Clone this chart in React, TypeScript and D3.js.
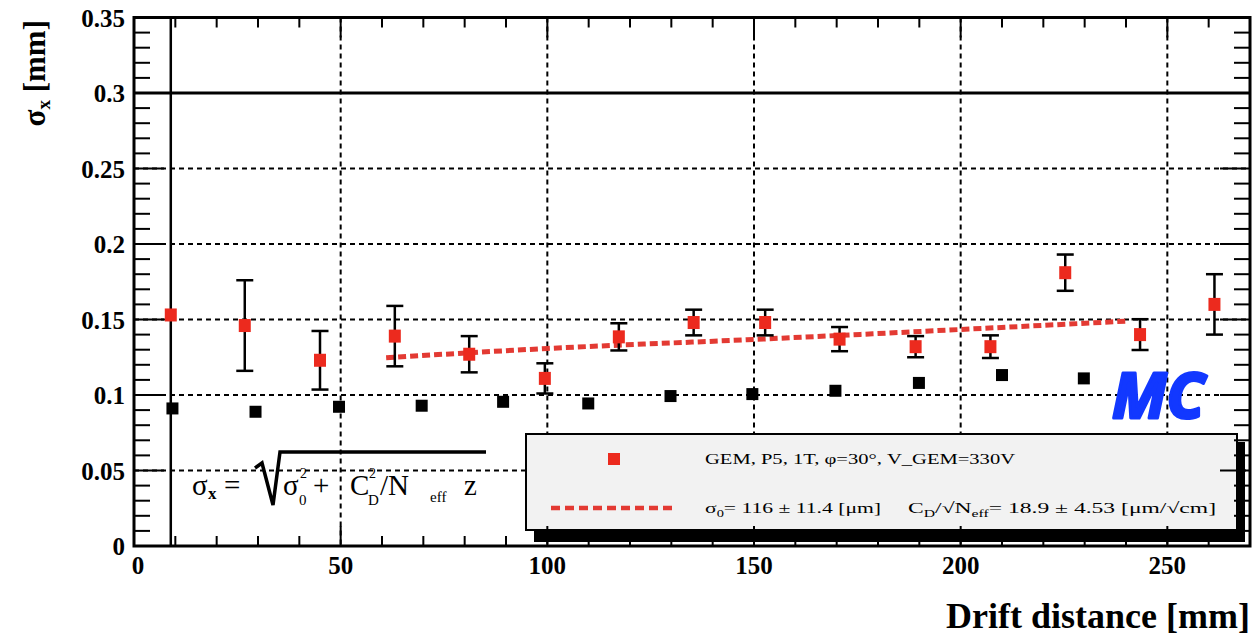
import React from 'react';
import * as d3 from 'd3';

// Red points: GEM data with error bars (x in mm, sigma in mm)
const redX = [8.9, 26.8, 45.0, 63.1, 81.1, 99.4, 117.3, 135.4, 152.7, 170.7, 189.1, 207.2, 225.3, 243.4, 261.4];
const redY = [0.153, 0.146, 0.123, 0.139, 0.127, 0.111, 0.1385, 0.148, 0.148, 0.137, 0.132, 0.132, 0.181, 0.140, 0.160];
const redErr = [0.25, 0.030, 0.0194, 0.020, 0.012, 0.010, 0.009, 0.0085, 0.0085, 0.008, 0.007, 0.0075, 0.012, 0.0102, 0.020];

// Black points (no error bars)
const blackX = [9.3, 29.4, 49.6, 69.6, 89.3, 109.9, 129.8, 149.6, 169.7, 189.9, 210.0, 229.8];
const blackY = [0.0911, 0.0889, 0.0922, 0.0929, 0.0955, 0.0944, 0.0993, 0.1006, 0.1028, 0.108, 0.1132, 0.111];

// Fit curve
const fitX = [61, 100, 150, 200, 240];
const fitY = [0.1247, 0.1308, 0.1368, 0.1434, 0.1489];

const xTickValues = [0, 50, 100, 150, 200, 250];
const xTickLabels = ['0', '50', '100', '150', '200', '250'];
const yTickValues = [0, 0.05, 0.1, 0.15, 0.2, 0.25, 0.3, 0.35];
const yTickLabels = ['0', '0.05', '0.1', '0.15', '0.2', '0.25', '0.3', '0.35'];

const W = 1253;
const H = 640;
const X0 = 134;
const X1 = 1250;
const Y0 = 546;
const Y1 = 17.5;

const RED = '#ec2a1e';
const SERIF = '"Liberation Serif", "DejaVu Serif", serif';

export default function App() {
  const x = d3.scaleLinear().domain([0, 270]).range([X0, X1]);
  const y = d3.scaleLinear().domain([0, 0.35]).range([Y0, Y1]);
  const xMinor = d3.range(0, 271, 10);
  const yMinor = d3.range(0, 36).map((i) => +(i * 0.01).toFixed(2));
  const isMajorY = (v: number) => Math.abs(v / 0.05 - Math.round(v / 0.05)) < 1e-6;
  const fitPath = d3
    .line<number>()
    .x((d) => x(d))
    .y((_, i) => y(fitY[i]))
    .curve(d3.curveMonotoneX)(fitX) as string;

  const gridX = xTickValues.filter((v) => v > 0);
  const gridY = yTickValues.filter((v) => v > 0 && v < 0.3);

  return (
    <svg
      width={W}
      height={H}
      style={{ position: 'absolute', left: 0, top: 0, background: '#fff' }}
      xmlns="http://www.w3.org/2000/svg"
    >
      <defs>
        <clipPath id="frame">
          <rect x={X0} y={Y1} width={X1 - X0} height={Y0 - Y1} />
        </clipPath>
      </defs>
      <rect x={0} y={0} width={W} height={H} fill="#fff" />

      {/* grid */}
      <g stroke="#000" strokeWidth={2} strokeDasharray="5,4">
        {gridX.map((v) => (
          <line key={'gx' + v} x1={x(v)} x2={x(v)} y1={Y1} y2={Y0} />
        ))}
        {gridY.map((v) => (
          <line key={'gy' + v} x1={X0} x2={X1} y1={y(v)} y2={y(v)} />
        ))}
      </g>
      <line x1={X0} x2={X1} y1={y(0.3)} y2={y(0.3)} stroke="#000" strokeWidth={3} />

      {/* formula */}
      <g fontFamily={SERIF} fill="#000">
        <text x={192} y={495} fontSize={29}>σ</text>
        <text x={208} y={499} fontSize={17} fontWeight="bold">x</text>
        <text x={224} y={495} fontSize={29}>=</text>
        <path d="M255,468 L262,463 L273,505 L280,452 L486,452" fill="none" stroke="#000" strokeWidth={3.5} strokeLinejoin="miter" />
        <text x={283} y={495} fontSize={29}>σ</text>
        <text x={299} y={505} fontSize={15}>0</text>
        <text x={300} y={478} fontSize={14}>2</text>
        <text x={313} y={495} fontSize={29}>+</text>
        <text x={350} y={495} fontSize={29}>C</text>
        <text x={368} y={505} fontSize={15}>D</text>
        <text x={369} y={478} fontSize={14}>2</text>
        <text x={380} y={495} fontSize={29}>/N</text>
        <text x={430} y={502} fontSize={15}>eff</text>
        <text x={464} y={495} fontSize={29}>z</text>
      </g>

      {/* fit curve */}
      <path d={fitPath} fill="none" stroke="#e33a33" strokeWidth={5} strokeDasharray="8,4" clipPath="url(#frame)" />

      {/* black points */}
      <g fill="#000">
        {blackX.map((v, i) => (
          <rect key={'b' + i} x={x(v) - 6} y={y(blackY[i]) - 6} width={12} height={12} />
        ))}
      </g>

      {/* red error bars */}
      <g stroke="#000" strokeWidth={2.5} clipPath="url(#frame)">
        {redX.map((v, i) => {
          const cx = x(v);
          const yt = y(redY[i] + redErr[i]);
          const yb = y(redY[i] - redErr[i]);
          return (
            <g key={'e' + i}>
              <line x1={cx} x2={cx} y1={yt} y2={yb} />
              <line x1={cx - 8.5} x2={cx + 8.5} y1={yt} y2={yt} />
              <line x1={cx - 8.5} x2={cx + 8.5} y1={yb} y2={yb} />
            </g>
          );
        })}
      </g>
      <g fill={RED}>
        {redX.map((v, i) => (
          <rect key={'r' + i} x={x(v) - 6} y={y(redY[i]) - 6.5} width={12} height={13} />
        ))}
      </g>

      {/* MC label */}
      <text
        x={1112}
        y={418}
        fontFamily='"Noto Sans", "DejaVu Sans", sans-serif'
        fontWeight="bold"
        fontStyle="italic"
        fontSize={62}
        fill="#1238ff"
        stroke="#1238ff"
        strokeWidth={3}
        strokeLinejoin="round"
      >
        MC
      </text>

      {/* legend */}
      <rect x={534} y={442} width={711} height={100} fill="#000" />
      <rect x={526} y={434} width={711} height={96} fill="#f2f2f2" stroke="#000" strokeWidth={2} />
      <rect x={608} y={453} width={12} height={12} fill={RED} />
      <line x1={551} x2={674} y1={508} y2={508} stroke="#e33a33" strokeWidth={4.5} strokeDasharray="9,5" />
      <g fontFamily={SERIF} fontSize={15} fill="#000">
        <text x={705} y={464} textLength={310} lengthAdjust="spacingAndGlyphs">
          GEM, P5, 1T, φ=30°, V_GEM=330V
        </text>
        <text x={705} y={513} textLength={176} lengthAdjust="spacingAndGlyphs">
          σ<tspan fontSize={10} dy={4}>0</tspan><tspan dy={-4}>= 116 ± 11.4 [μm]</tspan>
        </text>
        <text x={908} y={513} textLength={308} lengthAdjust="spacingAndGlyphs">
          C<tspan fontSize={10} dy={4}>D</tspan><tspan dy={-4}>/√N</tspan><tspan fontSize={10} dy={4}>eff</tspan><tspan dy={-4}>= 18.9 ± 4.53 [μm/√cm]</tspan>
        </text>
      </g>

      {/* ticks */}
      <g stroke="#000" strokeWidth={2}>
        {yMinor.map((v) => {
          const len = isMajorY(v) ? 30 : 16;
          return (
            <g key={'yt' + v}>
              <line x1={X0} x2={X0 + len} y1={y(v)} y2={y(v)} />
              <line x1={X1} x2={X1 - len} y1={y(v)} y2={y(v)} />
            </g>
          );
        })}
        {xMinor.map((v) => {
          const len = v % 50 === 0 ? 20 : 10;
          return (
            <g key={'xt' + v}>
              <line x1={x(v)} x2={x(v)} y1={Y0} y2={Y0 - len} />
              <line x1={x(v)} x2={x(v)} y1={Y1} y2={Y1 + len} />
            </g>
          );
        })}
      </g>

      {/* frame */}
      <rect x={X0} y={Y1} width={X1 - X0} height={Y0 - Y1} fill="none" stroke="#000" strokeWidth={3} />

      {/* tick labels */}
      <g fontFamily={SERIF} fontWeight="bold" fontSize={25} fill="#000">
        {yTickValues.map((v, i) => (
          <text key={'yl' + v} x={125} y={y(v) + 9} textAnchor="end">
            {yTickLabels[i]}
          </text>
        ))}
        {xTickValues.map((v, i) => (
          <text key={'xl' + v} x={x(v) + (v === 0 ? 4 : 0)} y={574} textAnchor="middle">
            {xTickLabels[i]}
          </text>
        ))}
      </g>

      {/* axis titles */}
      <text
        x={1250}
        y={628}
        textAnchor="end"
        fontFamily={SERIF}
        fontWeight="bold"
        fontSize={36}
        fill="#000"
      >
        Drift distance [mm]
      </text>
      <text
        transform="translate(45,20) rotate(-90)"
        textAnchor="end"
        fontFamily={SERIF}
        fontWeight="bold"
        fontSize={31}
        fill="#000"
      >
        σ<tspan fontSize={19} dy={5}>x</tspan>
        <tspan dy={-5}> [mm]</tspan>
      </text>
    </svg>
  );
}
